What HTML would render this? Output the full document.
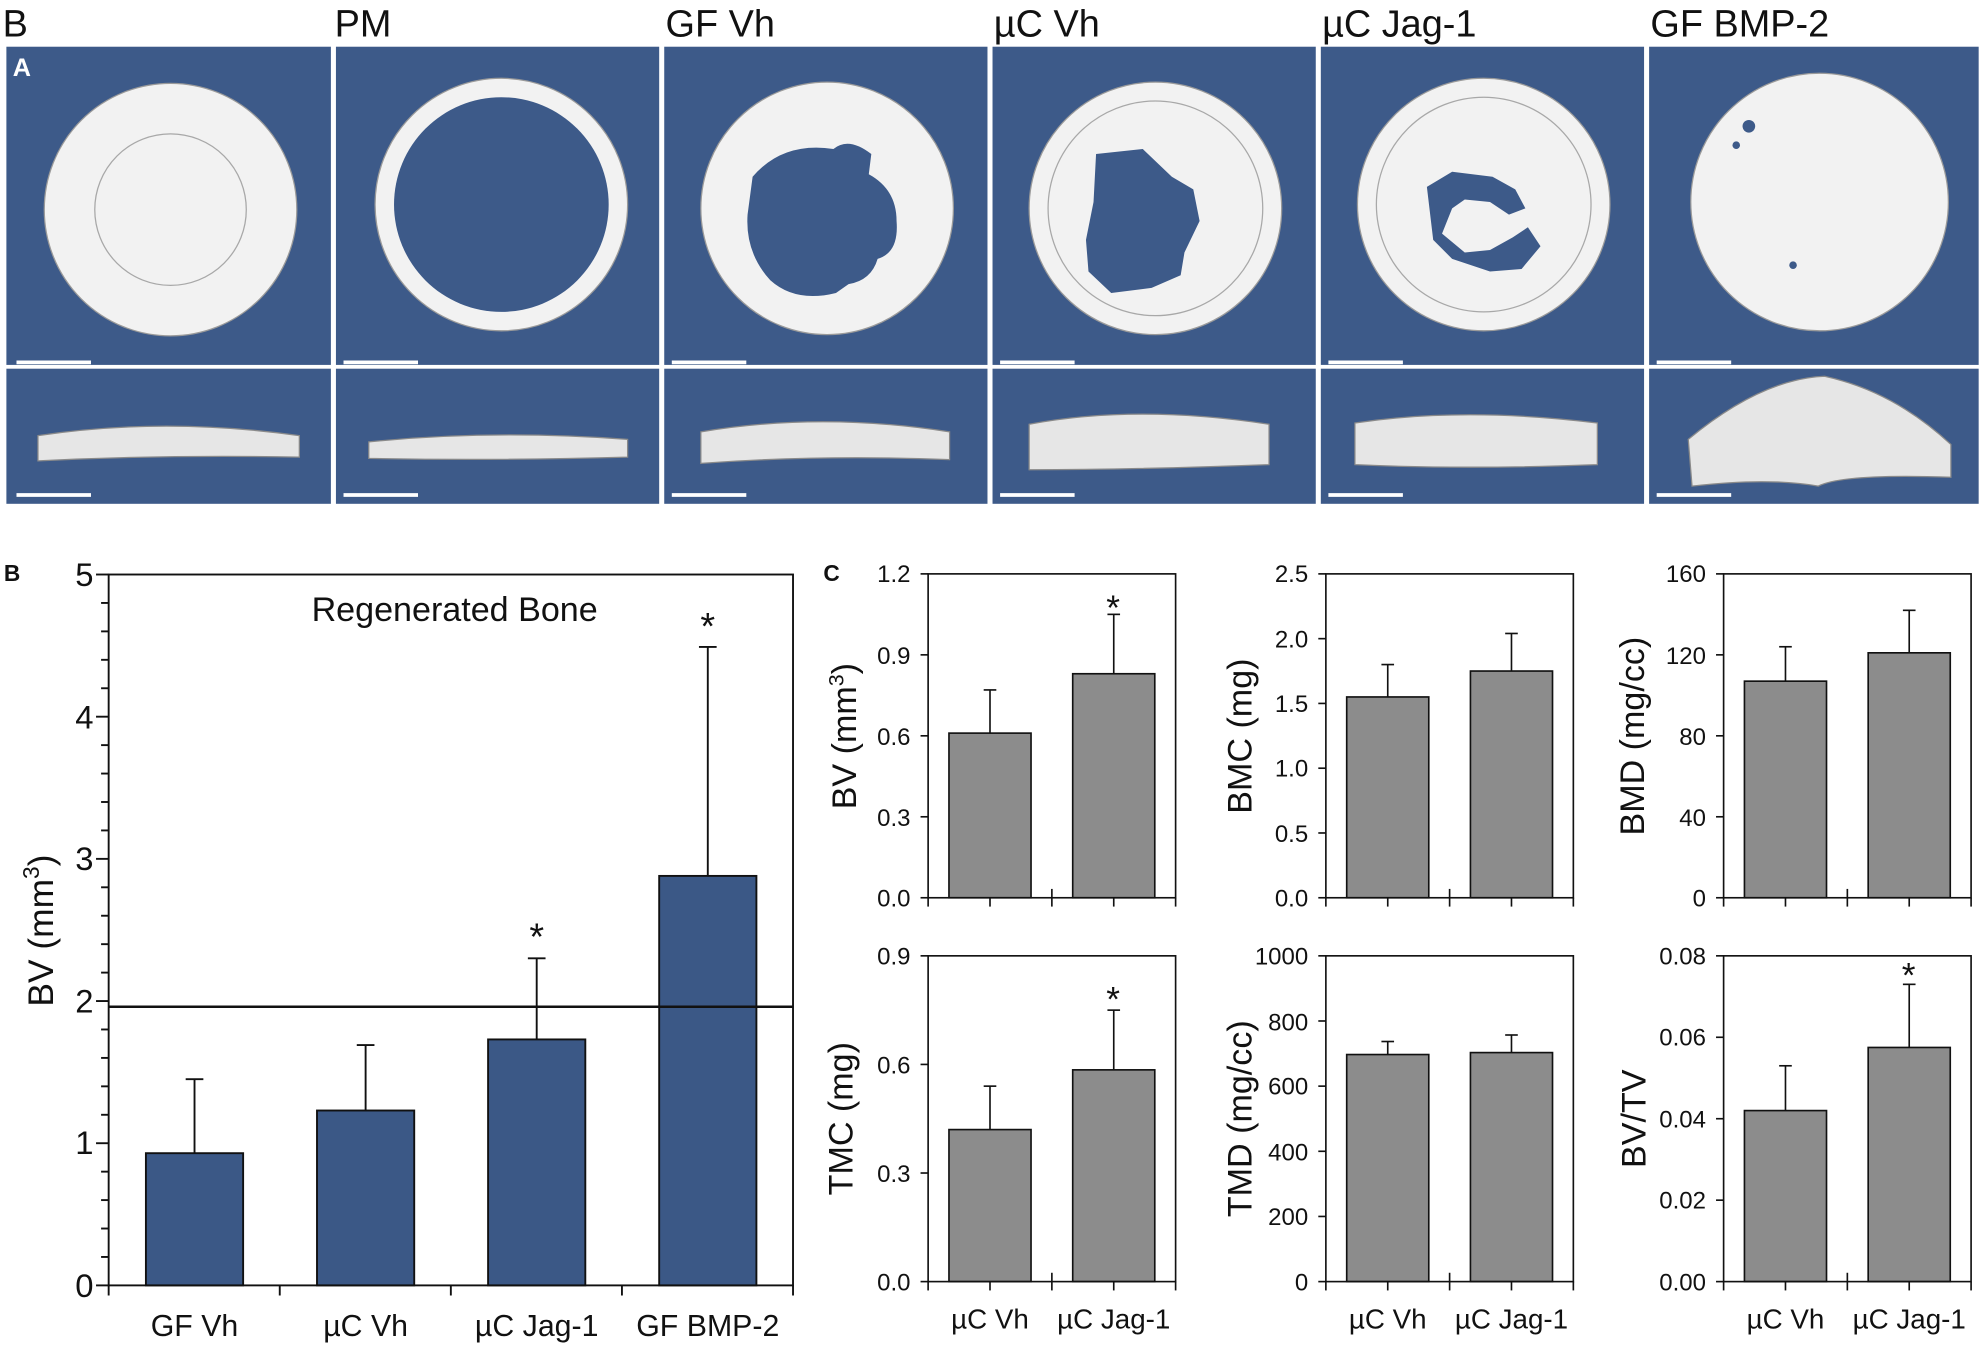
<!DOCTYPE html>
<html><head><meta charset="utf-8"><style>
html,body{margin:0;padding:0;background:#fff}
svg{display:block}
text{font-family:"Liberation Sans",sans-serif;fill:#111}
</style></head><body>
<svg id="s" width="1980" height="1346" viewBox="0 0 1568 1066" xmlns="http://www.w3.org/2000/svg">
<rect width="1568" height="1066" fill="#fff"/>
<g font-size="30">
<text x="2" y="29">B</text>
<text x="265" y="29">PM</text>
<text x="527" y="29">GF Vh</text>
<text x="787" y="29">µC Vh</text>
<text x="1047" y="29">µC Jag-1</text>
<text x="1307" y="29">GF BMP-2</text>
</g>
<g fill="#3d5a89">
<rect x="5" y="37" width="257" height="252"/><rect x="266" y="37" width="256" height="252"/><rect x="526" y="37" width="256" height="252"/><rect x="786" y="37" width="256" height="252"/><rect x="1046" y="37" width="256" height="252"/><rect x="1306" y="37" width="261" height="252"/>
<rect x="5" y="292" width="257" height="107"/><rect x="266" y="292" width="256" height="107"/><rect x="526" y="292" width="256" height="107"/><rect x="786" y="292" width="256" height="107"/><rect x="1046" y="292" width="256" height="107"/><rect x="1306" y="292" width="261" height="107"/>
</g>
<text x="10" y="60" font-size="20" font-weight="bold" style="fill:#fff">A</text>
<g fill="#f2f2f2" stroke="#9a9a9a" stroke-width="1">
<circle cx="135" cy="166" r="100"/>
<circle cx="397" cy="162" r="100"/>
<circle cx="655" cy="165" r="100"/>
<circle cx="915" cy="165" r="100"/>
<circle cx="1175" cy="162" r="100"/>
<circle cx="1441" cy="160" r="102"/>
</g>
<g fill="#3d5a89">
<circle cx="397" cy="162" r="85"/>
<path d="M596 140 Q620 112 660 118 Q672 108 690 122 L688 138 Q710 150 710 175 Q712 200 695 205 Q690 222 672 225 L662 232 Q630 240 610 222 Q590 200 592 170 Z"/>
<path d="M868 122 L905 118 L928 140 L945 150 L950 175 L938 200 L935 218 L912 228 L880 232 L862 215 L860 190 L866 160 Z"/>
<path d="M1130 148 L1150 136 L1182 140 L1200 150 L1208 165 L1195 170 L1180 160 L1160 158 L1150 165 L1142 185 L1160 200 L1180 198 L1198 188 L1210 180 L1220 195 L1205 213 L1180 215 L1150 205 L1135 190 Z"/>
<circle cx="1385" cy="100" r="5"/><circle cx="1375" cy="115" r="3"/><circle cx="1420" cy="210" r="3"/>
</g>
<g fill="none" stroke="#777" stroke-width="1" opacity=".6">
<circle cx="135" cy="166" r="60"/><circle cx="915" cy="165" r="85"/><circle cx="1175" cy="162" r="85"/>
</g>
<g fill="#e6e6e6" stroke="#8a8a8a" stroke-width="1">
<path d="M30 345 Q130 330 237 345 L237 362 Q130 360 30 365 Z"/>
<path d="M292 350 Q390 340 497 348 L497 362 Q390 365 292 363 Z"/>
<path d="M555 342 Q650 326 752 342 L752 364 Q650 360 555 367 Z"/>
<path d="M815 336 Q900 320 1005 336 L1005 368 Q900 372 815 372 Z"/>
<path d="M1073 335 Q1160 322 1265 335 L1265 368 Q1160 372 1073 368 Z"/>
<path d="M1337 348 Q1395 300 1445 298 Q1500 310 1545 352 L1545 378 Q1460 375 1440 385 Q1400 378 1340 385 Z"/>
</g>
<g stroke="#fff" stroke-width="3">
<line x1="13" y1="287" x2="72" y2="287"/><line x1="272" y1="287" x2="331" y2="287"/><line x1="532" y1="287" x2="591" y2="287"/><line x1="792" y1="287" x2="851" y2="287"/><line x1="1052" y1="287" x2="1111" y2="287"/><line x1="1312" y1="287" x2="1371" y2="287"/>
<line x1="13" y1="392" x2="72" y2="392"/><line x1="272" y1="392" x2="331" y2="392"/><line x1="532" y1="392" x2="591" y2="392"/><line x1="792" y1="392" x2="851" y2="392"/><line x1="1052" y1="392" x2="1111" y2="392"/><line x1="1312" y1="392" x2="1371" y2="392"/>
</g>

<text x="3" y="460" font-size="18" font-weight="bold">B</text>
<g stroke="#111" stroke-width="1.5" fill="#3b5886">
<rect x="115.5" y="913.3" width="77" height="104.7"/>
<rect x="251" y="879.5" width="77" height="138.5"/>
<rect x="386.5" y="823.2" width="77" height="194.8"/>
<rect x="522" y="693.7" width="77" height="324.3"/>
</g>
<g stroke="#111" stroke-width="1.5">
<line x1="154" y1="913" x2="154" y2="854.7"/><line x1="147" y1="854.7" x2="161" y2="854.7"/>
<line x1="289.5" y1="879.5" x2="289.5" y2="827.7"/><line x1="282.5" y1="827.7" x2="296.5" y2="827.7"/>
<line x1="425" y1="823" x2="425" y2="759"/><line x1="418" y1="759" x2="432" y2="759"/>
<line x1="560.5" y1="693.7" x2="560.5" y2="512.4"/><line x1="553.5" y1="512.4" x2="567.5" y2="512.4"/>
<line x1="86" y1="797.3" x2="628" y2="797.3" stroke-width="2"/>
<rect x="86" y="455" width="542" height="563" fill="none"/>
<line x1="86" y1="1018" x2="86" y2="1026"/><line x1="221.5" y1="1018" x2="221.5" y2="1026"/><line x1="357" y1="1018" x2="357" y2="1026"/><line x1="492.5" y1="1018" x2="492.5" y2="1026"/><line x1="628" y1="1018" x2="628" y2="1026"/>
</g>
<g id="btk" stroke="#111" stroke-width="1.5"></g>
<g font-size="26" text-anchor="end">
<text x="74" y="1027">0</text><text x="74" y="914">1</text><text x="74" y="802">2</text><text x="74" y="689">3</text><text x="74" y="577">4</text><text x="74" y="464">5</text>
</g>
<text x="360" y="492" font-size="27" text-anchor="middle">Regenerated Bone</text>
<text x="425" y="752" font-size="30" text-anchor="middle">*</text>
<text x="560.5" y="506" font-size="30" text-anchor="middle">*</text>
<text transform="translate(42,737) rotate(-90)" font-size="28" text-anchor="middle">BV (mm<tspan font-size="18" dy="-11">3</tspan><tspan dy="11">)</tspan></text>
<g font-size="24" text-anchor="middle">
<text x="154" y="1058">GF Vh</text><text x="289.5" y="1058">µC Vh</text><text x="425" y="1058">µC Jag-1</text><text x="560.5" y="1058">GF BMP-2</text>
</g>

<text x="652" y="460" font-size="18" font-weight="bold">C</text>
<g id="cc"></g>
<g font-size="19" text-anchor="end">
<text x="721" y="718">0.0</text><text x="721" y="654">0.3</text><text x="721" y="590">0.6</text><text x="721" y="526">0.9</text><text x="721" y="461">1.2</text>
<text x="1036" y="718">0.0</text><text x="1036" y="667">0.5</text><text x="1036" y="615">1.0</text><text x="1036" y="564">1.5</text><text x="1036" y="513">2.0</text><text x="1036" y="461">2.5</text>
<text x="1351" y="718">0</text><text x="1351" y="654">40</text><text x="1351" y="590">80</text><text x="1351" y="526">120</text><text x="1351" y="461">160</text>
<text x="721" y="1022">0.0</text><text x="721" y="936">0.3</text><text x="721" y="850">0.6</text><text x="721" y="764">0.9</text>
<text x="1036" y="1022">0</text><text x="1036" y="970">200</text><text x="1036" y="919">400</text><text x="1036" y="867">600</text><text x="1036" y="816">800</text><text x="1036" y="764">1000</text>
<text x="1351" y="1022">0.00</text><text x="1351" y="957">0.02</text><text x="1351" y="893">0.04</text><text x="1351" y="828">0.06</text><text x="1351" y="764">0.08</text>
</g>
<g font-size="27" text-anchor="middle">
<text transform="translate(678,583) rotate(-90)">BV (mm<tspan font-size="17" dy="-10">3</tspan><tspan dy="10">)</tspan></text>
<text transform="translate(991,583) rotate(-90)">BMC (mg)</text>
<text transform="translate(1302,583) rotate(-90)">BMD (mg/cc)</text>
<text transform="translate(675,886) rotate(-90)">TMC (mg)</text>
<text transform="translate(991,886) rotate(-90)">TMD (mg/cc)</text>
<text transform="translate(1303,886) rotate(-90)">BV/TV</text>
</g>
<g font-size="28" text-anchor="middle">
<text x="881.5" y="491">*</text><text x="881.5" y="801">*</text><text x="1511.5" y="782">*</text>
</g>
<g font-size="22" text-anchor="middle">
<text x="784" y="1052">µC Vh</text><text x="882" y="1052">µC Jag-1</text>
<text x="1099" y="1052">µC Vh</text><text x="1197" y="1052">µC Jag-1</text>
<text x="1414" y="1052">µC Vh</text><text x="1512" y="1052">µC Jag-1</text>
</g>
</svg>
<script>
var NS="http://www.w3.org/2000/svg";
function el(p,t,a){var e=document.createElementNS(NS,t);for(var k in a)e.setAttribute(k,a[k]);p.appendChild(e);return e;}
var b=document.getElementById("btk");
for(var i=0;i<=25;i++){var y=1018-i*22.52;var L=(i%5==0)?10:6;el(b,"line",{x1:86-L,y1:y,x2:86,y2:y});}
var c=document.getElementById("cc");
function chart(x0,y0,h,max,n,v){
 var w=196,yb=y0+h;
 function Y(t){return yb-t/max*h;}
 var cen=[x0+49,x0+147];
 for(var i=0;i<2;i++){
  el(c,"rect",{x:cen[i]-32.5,y:Y(v[i][0]),width:65,height:yb-Y(v[i][0]),fill:"#8c8c8c",stroke:"#111","stroke-width":1.3});
  el(c,"line",{x1:cen[i],y1:Y(v[i][0]),x2:cen[i],y2:Y(v[i][1]),stroke:"#111","stroke-width":1.3});
  el(c,"line",{x1:cen[i]-5,y1:Y(v[i][1]),x2:cen[i]+5,y2:Y(v[i][1]),stroke:"#111","stroke-width":1.3});
 }
 el(c,"rect",{x:x0,y:y0,width:w,height:h,fill:"none",stroke:"#111","stroke-width":1.3});
 for(var k=0;k<=n;k++){var y=yb-k*h/n;el(c,"line",{x1:x0-6,y1:y,x2:x0,y2:y,stroke:"#111","stroke-width":1.3});}
 [x0,x0+49,x0+98,x0+147,x0+196].forEach(function(x,j){el(c,"line",{x1:x,y1:(j==2?yb-7:yb),x2:x,y2:yb+7,stroke:"#111","stroke-width":1.3});});
}
chart(735,454.5,256.5,1.2,4,[[0.61,0.77],[0.83,1.05]]);
chart(1050,454.5,256.5,2.5,5,[[1.55,1.80],[1.75,2.04]]);
chart(1365,454.5,256.5,160,4,[[107,124],[121,142]]);
chart(735,757,258,0.9,3,[[0.42,0.54],[0.585,0.75]]);
chart(1050,757,258,1000,5,[[697,737],[703,757]]);
chart(1365,757,258,0.08,4,[[0.042,0.053],[0.0575,0.073]]);
</script>
</body></html>
